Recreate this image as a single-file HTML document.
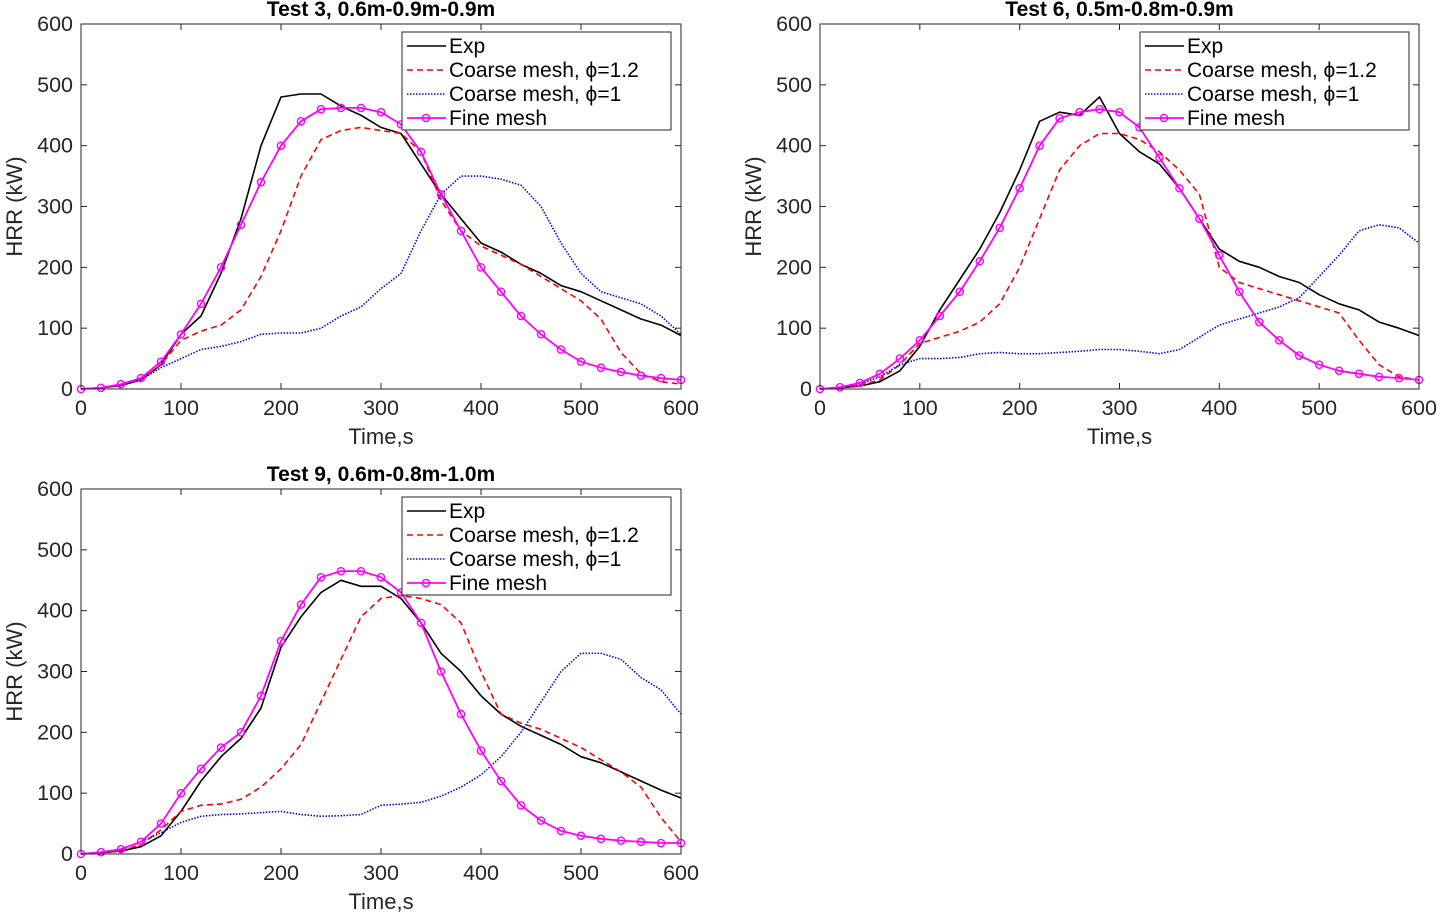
<!DOCTYPE html>
<html><head><meta charset="utf-8">
<style>
html,body{margin:0;padding:0;background:#fff;}
svg{display:block;font-family:"Liberation Sans",sans-serif;}
</style></head>
<body>
<svg id="fig" width="1441" height="912" viewBox="0 0 1441 912" xmlns="http://www.w3.org/2000/svg"></svg>
<script>
const times = [0,20,40,60,80,100,120,140,160,180,200,220,240,260,280,300,320,340,360,380,400,420,440,460,480,500,520,540,560,580,600];
const xTicks = [0,100,200,300,400,500,600];
const yTicks = [0,100,200,300,400,500,600];
const seriesNames = ["Exp","Coarse mesh, \u03D5=1.2","Coarse mesh, \u03D5=1","Fine mesh"];

const t3Exp = [0,2,6,15,40,90,120,190,280,400,480,485,485,465,450,430,420,370,320,280,240,225,205,190,170,160,145,130,115,105,88];
const t3C12 = [0,2,6,15,40,80,95,105,130,185,260,350,410,425,430,425,420,390,310,260,235,220,205,185,165,145,115,60,25,12,8];
const t3C1  = [0,2,6,15,35,50,65,70,78,90,92,92,100,120,135,165,190,260,320,350,350,345,335,300,240,190,160,150,140,120,90];
const t3Fine= [0,2,8,18,45,90,140,200,270,340,400,440,460,462,462,455,435,390,320,260,200,160,120,90,65,45,35,28,22,18,15];

const t6Exp = [0,2,5,12,30,70,130,180,230,290,360,440,455,450,480,420,390,370,330,280,230,210,200,185,175,155,140,130,110,100,88];
const t6C12 = [0,2,6,15,40,75,85,95,110,140,200,280,360,400,420,420,410,390,360,320,200,175,165,155,145,135,125,80,40,20,15];
const t6C1  = [0,2,8,20,40,50,50,52,58,60,58,58,60,62,65,65,62,58,65,85,105,115,125,135,150,185,220,260,270,265,240];
const t6Fine= [0,3,10,25,50,80,120,160,210,265,330,400,445,455,460,455,430,380,330,280,220,160,110,80,55,40,30,25,20,18,15];

const t9Exp = [0,2,5,12,30,70,120,160,190,240,340,390,430,450,440,440,420,380,330,300,260,230,210,195,180,160,150,135,120,105,92];
const t9C12 = [0,2,6,15,40,70,80,82,90,110,140,180,250,320,390,420,425,420,410,380,300,230,215,205,190,175,155,135,110,60,20];
const t9C1  = [0,2,8,20,35,52,62,65,66,68,70,65,62,63,65,80,82,85,95,110,130,160,200,250,300,330,330,320,290,270,230];
const t9Fine= [0,3,8,20,50,100,140,175,200,260,350,410,455,465,465,455,430,380,300,230,170,120,80,55,38,30,25,22,20,18,18];

const panels = [
  {id:"test3", title:"Test 3, 0.6m-0.9m-0.9m", x0:81,x1:681,yTop:24,yBot:389, data:[t3Exp,t3C12,t3C1,t3Fine]},
  {id:"test6", title:"Test 6, 0.5m-0.8m-0.9m", x0:820,x1:1419,yTop:24,yBot:389, data:[t6Exp,t6C12,t6C1,t6Fine]},
  {id:"test9", title:"Test 9, 0.6m-0.8m-1.0m", x0:81,x1:681,yTop:489,yBot:854, data:[t9Exp,t9C12,t9C1,t9Fine]}
];
const styles = [
  {stroke:"#000",dash:"",w:1.6},
  {stroke:"#ff0000",dash:"6,4",w:1.6},
  {stroke:"#0000ff",dash:"1.5,1.5",w:1.6},
  {stroke:"#ff00ff",dash:"",w:1.8}
];
const NS="http://www.w3.org/2000/svg";
const svg=document.getElementById("fig");
function mk(tag,attrs,parent){const e=document.createElementNS(NS,tag);for(const k in attrs)e.setAttribute(k,attrs[k]);(parent||svg).appendChild(e);return e;}

panels.forEach(p=>{
  const g=mk("g",{});
  
  
  const sx=v=>p.x0+(v-0)/600*(p.x1-p.x0);
  const sy=v=>p.yBot-(v/600)*(p.yBot-p.yTop);
  p.data.forEach((arr,si)=>{
    const st=styles[si];
    const d=arr.map((v,i)=>(i?"L":"M")+sx(times[i]).toFixed(1)+","+sy(v).toFixed(1)).join("");
    const path=mk("path",{d:d,fill:"none",stroke:st.stroke,"stroke-width":st.w,"stroke-dasharray":st.dash,"stroke-linejoin":"round"},g);
    
    
    if(si===3){
      arr.forEach((v,i)=>{
        const c=mk("circle",{cx:sx(times[i]),cy:sy(v),r:3.6,fill:"none",stroke:st.stroke,"stroke-width":1.4},g);
        
        
      });
    }
  });
  const box=mk("rect",{x:p.x0,y:p.yTop,width:p.x1-p.x0,height:p.yBot-p.yTop,fill:"none",stroke:"#262626","stroke-width":1},g);
  
  
  xTicks.forEach(t=>{
    const x=sx(t);
    mk("line",{x1:x,y1:p.yBot,x2:x,y2:p.yBot-6,stroke:"#262626"},g);
    mk("line",{x1:x,y1:p.yTop,x2:x,y2:p.yTop+6,stroke:"#262626"},g);
    const tx=mk("text",{x:x,y:p.yBot+26,"text-anchor":"middle","font-size":21.5,fill:"#262626"},g);
    tx.textContent=t;
    
    
  });
  yTicks.forEach(t=>{
    const y=sy(t);
    mk("line",{x1:p.x0,y1:y,x2:p.x0+6,y2:y,stroke:"#262626"},g);
    mk("line",{x1:p.x1,y1:y,x2:p.x1-6,y2:y,stroke:"#262626"},g);
    const tx=mk("text",{x:p.x0-8,y:y+7,"text-anchor":"end","font-size":21.5,fill:"#262626"},g);
    tx.textContent=t;
    
    
  });
  const xl=mk("text",{x:(p.x0+p.x1)/2,y:p.yBot+55,"text-anchor":"middle","font-size":22,fill:"#262626"},g);
  xl.textContent="Time,s";
  
  
  const yc=(p.yTop+p.yBot)/2, yx=p.x0-59;
  const yl=mk("text",{x:yx,y:yc,"text-anchor":"middle","font-size":22,fill:"#262626",transform:"rotate(-90 "+yx+" "+yc+")"},g);
  yl.textContent="HRR (kW)";
  
  
  const ti=mk("text",{x:(p.x0+p.x1)/2,y:p.yTop-8,"text-anchor":"middle","font-size":21,"font-weight":"bold",fill:"#000"},g);
  ti.textContent=p.title;
  
  
  const lx=p.x1-279, ly=p.yTop+8;
  const lg=mk("g",{},g);
  
  
  mk("rect",{x:lx,y:ly,width:269,height:98,fill:"#fff",stroke:"#262626","stroke-width":1},lg);
  seriesNames.forEach((n,i)=>{
    const yy=ly+14+i*24;
    const st=styles[i];
    const ln=mk("line",{x1:lx+5,y1:yy,x2:lx+44,y2:yy,stroke:st.stroke,"stroke-width":st.w,"stroke-dasharray":st.dash},lg);
    
    
    if(i===3) mk("circle",{cx:lx+24,cy:yy,r:3.6,fill:"none",stroke:st.stroke,"stroke-width":1.4},lg);
    const tx=mk("text",{x:lx+47,y:yy+7,"font-size":21,fill:"#000"},lg);
    tx.textContent=n;
    
    
  });
});
</script>
</body></html>
